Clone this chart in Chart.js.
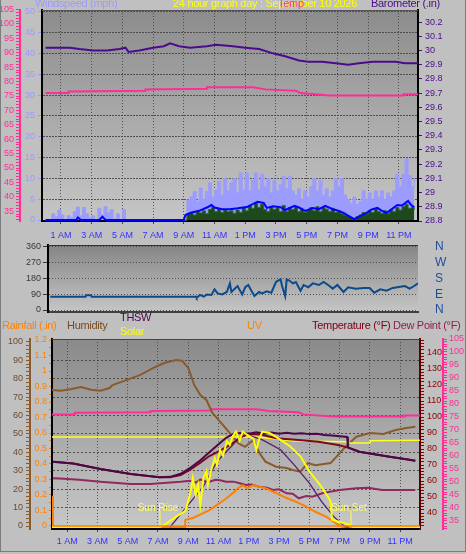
<!DOCTYPE html>
<html><head><meta charset="utf-8">
<script src="https://cdn.jsdelivr.net/npm/chart.js@4/dist/chart.umd.min.js"></script>
<style>
html,body{margin:0;padding:0;background:#c0c0c0;}
#wrap{position:relative;width:466px;height:554px;overflow:hidden;background:#c0c0c0;font-family:"Liberation Sans",Arial,sans-serif;}
canvas{position:absolute;left:0;}
.t{position:absolute;white-space:nowrap;font-size:11px;line-height:12px;letter-spacing:-0.3px;}
#frame{position:absolute;left:0;top:-2px;width:464px;height:552px;border:1px solid #7c7c7c;pointer-events:none;}
</style></head>
<body><div id="wrap">
<canvas id="c1" width="466" height="244" style="top:0"></canvas>
<canvas id="c2" width="466" height="79" style="top:239px"></canvas>
<canvas id="c3" width="466" height="236" style="top:318px"></canvas>
<div class="t" style="left:35px;top:-3px;color:#9a9aff">Windspeed (mph)</div>
<div class="t" style="left:173px;top:-3px;color:#ffff00">24 hour graph day : September 10 2026</div>
<div class="t" style="left:278px;top:-3px;color:#ff2d96">Temp</div>
<div class="t" style="left:371px;top:-3px;color:#4a0c8c">Barometer (.in)</div>
<div class="t" style="left:2px;top:319px;color:#ff8000">Rainfall (.in)</div>
<div class="t" style="left:67px;top:319px;color:#7a4a1e">Humidity</div>
<div class="t" style="left:120px;top:311px;color:#4a0848">THSW</div>
<div class="t" style="left:120px;top:325px;color:#ffff00">Solar</div>
<div class="t" style="left:247px;top:319px;color:#ff8000">UV</div>
<div class="t" style="left:312px;top:319px;color:#7a0010">Temperature (°F)</div>
<div class="t" style="left:393px;top:319px;color:#8e1e50">Dew Point (°F)</div>
<div id="frame"></div>
</div>
<script>
// ---------- tick labels ----------
const hourTicks = [1,3,5,7,9,11,13,15,17,19,21,23];
const hourLabels = ['1 AM','3 AM','5 AM','7 AM','9 AM','11 AM','1 PM','3 PM','5 PM','7 PM','9 PM','11 PM'];
const dirTicks = [0,90,180,270,360];
const compassLabels = ['N','E','S','W','N'];
const sunTimes = [7.13, 19.75];
const sunLabels = ['Sun Rise','Sun Set'];
const sunMarkTop = 90;

// ---------- top panel: wind, barometer, indoor temp ----------
const gustStart = 0, gustStep = 0.2;
const gustV = [0,0,1.5,0.8,2.4,1.2,0,1.0,0.5,2.0,3.1,1.0,3.0,1.5,0.5,1.0,0,2.8,1.2,3.2,1.8,2.5,0,1.5,0,2.5,0,
  0,0,0,0,0,0,0,0,0,0,0,0,0,0,0,0,0,0,
  0,4.8,5.6,6.8,4.5,7.7,5.0,6.8,8.9,5.5,7.2,9.3,6.0,10.1,7.0,8.9,10.0,6.5,11.3,7.2,11.3,7.0,9.5,11.3,7.2,11.0,
  8.0,10.0,6.5,9.5,7.0,8.5,10.5,7.5,10.5,7.0,6.0,7.5,5.0,7.0,5.5,8.0,10.0,7.0,9.5,6.0,7.5,5.5,7.0,10.0,8.0,
  10.0,6.0,5.0,4.0,5.5,3.7,4.5,7.0,5.0,6.5,5.0,7.0,5.5,7.0,5.0,6.5,5.5,7.0,11.0,8.0,11.0,14.7,10.7,8.0,10.0];
const lowStart = 9.0, lowStep = 0.2;
const lowV = [0,1.5,1.8,1.2,2.0,1.7,2.2,1.5,2.5,3.0,2.0,2.6,1.8,2.4,2.0,2.2,1.6,2.4,1.8,3.0,2.2,3.5,2.8,4.2,3.0,
  3.8,2.5,2.0,3.2,2.5,3.0,2.0,3.5,2.0,3.0,2.5,3.2,2.0,2.6,1.8,2.4,3.0,2.2,3.2,2.0,3.0,2.6,2.0,2.8,1.8,
  2.2,1.5,1.2,1.0,0.6,0.3,0.8,1.2,1.8,1.5,2.2,1.8,2.6,2.0,1.6,2.2,1.5,2.5,2.0,3.0,2.4,3.2,3.8,2.8,3.0,2.5];
const windT = [0,2.0,2.1,2.3,3.5,3.7,3.9,9.0,9.1,9.5,10.0,10.5,10.8,11.0,11.5,12.0,12.5,13.1,13.8,14.2,14.4,14.8,15.3,15.6,16.2,16.5,16.9,17.4,17.8,18.2,18.7,19.0,19.4,19.8,20.1,20.5,20.9,21.2,21.6,21.9,22.2,22.6,22.9,23.2,23.6,23.8,24.0];
const windV = [0,0,0.6,0,0,0.8,0,0,1.2,1.8,2.2,3.0,3.6,3.0,2.6,2.6,2.8,3.1,4.4,4.1,2.9,3.3,3.1,2.4,3.4,3.0,2.2,2.9,2.6,3.4,2.6,2.3,1.7,0.8,0.2,1.0,1.7,2.5,2.9,2.2,1.7,2.8,3.6,3.5,4.6,3.6,3.1];
const baroT = [0,1.0,1.6,2.2,3.1,4.0,4.8,5.2,5.4,6.1,7.0,7.7,8.1,8.7,9.4,10.5,11.1,12.2,13.0,13.9,14.8,15.6,16.5,17.1,18.0,18.9,19.7,20.4,21.3,21.9,22.8,23.4,24.25];
const baroV = [30.02,30.02,30.02,30.01,30.0,30.0,30.01,30.02,29.99,30.0,30.02,30.03,30.05,30.03,30.02,30.03,30.04,30.03,30.02,30.01,29.98,29.96,29.93,29.92,29.92,29.91,29.90,29.91,29.92,29.92,29.92,29.91,29.91];
const inTempT = [0,1.5,1.5,6.5,6.5,10.5,10.5,13.5,14.3,16.3,16.6,18.5,23.3,23.3,24.3];
const inTempV = [76.0,76.0,76.6,76.8,77.3,77.5,78.0,78.0,77.3,76.8,76.0,75.2,75.2,75.6,75.6];

// ---------- middle panel: wind direction ----------
const dirT = [0.3,2.6,2.65,2.95,3.0,9.8,9.84,10.05,10.3,10.5,10.8,11.0,11.2,11.5,11.8,12.0,12.1,12.3,12.5,12.8,13.0,13.2,13.4,13.6,13.9,14.1,14.4,14.7,15.0,15.3,15.4,15.6,15.7,15.9,16.1,16.3,16.6,16.8,17.1,17.4,17.8,18.1,18.4,18.7,19.0,19.4,19.7,20.2,20.7,21.1,21.4,21.8,22.2,22.6,23.1,23.4,23.7,24.0,24.25];
const dirV = [76,76,84,84,76,76,70,86,76,89,86,118,95,89,103,152,103,120,137,89,130,143,110,80,103,95,107,99,160,175,137,80,175,167,152,160,110,143,130,152,143,160,143,122,143,103,130,122,126,126,99,118,110,126,133,137,122,137,152];

// ---------- bottom panel ----------
const rainT = [0.04,0.04,0.08,0.08,24.3];
const rainV = [0,0.19,0.19,0,0];
const humT = [0,0.6,1.3,1.9,2.6,3.2,3.8,4.0,4.9,5.8,6.7,7.4,8.2,8.6,9.0,9.4,9.8,10.2,10.6,11.1,11.75,12.3,12.75,13.3,13.7,14.1,14.8,15.5,15.9,16.4,16.9,17.4,18.4,18.8,19.4,20.1,21.0,21.9,22.7,23.4,24.0];
const humV = [73.9,73.5,74.5,75.5,74.0,73.5,75.0,76.6,79.3,82.0,85.9,88.6,90.2,89.8,85.9,76.6,71.2,68.5,61.4,56.7,50.5,45.0,43.0,46.7,39.7,35.0,32.2,31.5,30.4,29.5,34.2,33.0,34.2,37.7,43.1,48.5,50.5,50.0,52.2,53.3,54.0];
const tempT = [0.07,1.4,3.2,5.2,7.1,7.8,8.5,9.1,9.8,10.4,11.2,12.0,12.5,13.0,13.8,14.8,16.3,17.6,18.9,19.5,20.3,21.2,22.3,23.4,24.0];
const tempV = [72.1,71.0,67.5,64.4,62.3,62.3,63.7,66.9,71.5,75.6,79.4,84.0,87.5,89.5,89.0,86.7,85.6,84.6,82.5,81.0,78.3,76.9,75.2,73.6,72.7];
const thswT = [0.07,1.4,3.2,5.2,7.1,7.8,8.5,9.1,9.8,10.4,11.0,11.5,12.0,12.5,13.0,13.5,14.0,14.5,15.0,15.5,16.0,16.5,17.0,17.5,18.0,18.5,19.0,19.5,19.55,20.3,21.2,22.3,23.4,24.0];
const thswV = [72.1,71.0,67.5,64.4,62.3,62.6,64.5,68.0,73.0,78.0,83.0,87.0,89.5,90.0,89.5,90.5,89.5,90.3,89.6,90.2,89.6,89.8,89.3,89.5,88.8,88.5,88.0,87.5,81.0,78.3,76.9,75.2,73.6,72.7];
const dewT = [0.07,0.5,1.8,3.2,5.2,6.5,7.6,8.5,9.1,9.5,9.8,10.1,10.4,10.8,11.1,11.5,12.0,12.4,12.8,13.2,13.7,14.2,14.6,15.0,15.5,15.9,16.3,16.8,17.2,17.9,19.0,20.1,20.9,21.8,22.9,24.0];
const dewV = [61.7,61.5,60.8,59.6,58.1,58.1,58.9,59.6,60.2,59.0,61.0,59.8,59.5,60.8,60.5,59.5,59.6,58.6,57.5,57.8,56.4,55.8,54.4,54.8,52.3,52.0,49.2,50.6,50.2,52.5,54.4,55.4,55.8,54.4,54.4,54.4];
const solarT = [0,7.13,7.6,8.25,8.8,9.0,9.2,9.3,9.5,9.65,9.8,10.0,10.2,10.3,10.55,10.75,10.9,11.1,11.3,11.55,11.75,11.95,12.15,12.4,12.6,12.9,13.3,13.5,13.7,13.9,14.4,15.1,15.7,16.4,17.0,17.7,18.2,18.4,18.5,19.0,19.55,19.9,24.3];
const solarV = [0,0,21,58,85,138,207,260,172,225,118,260,297,225,313,367,330,411,380,456,438,484,508,460,508,490,470,411,470,508,499,464,431,378,297,225,165,138,39,27,16,0,0];
const solarMaxT = [7.8,9.0,10.0,10.9,11.95,12.3,12.9,13.9,15.1,16.0,17.0,17.8,18.6,19.35,19.6];
const solarMaxV = [0,118,216,349,438,473,491,464,411,331,234,137,57,2,0];
const uvT = [0,8.8,8.8,9.3,10.0,10.4,11.1,11.55,11.95,12.3,12.6,12.9,13.3,13.7,14.1,14.8,15.5,16.1,16.8,17.4,18.1,18.6,18.8,19.2,24.3];
const uvV = [0,0,0.37,0.48,0.74,0.9,1.28,1.54,1.81,2.07,2.23,2.07,2.23,2.14,2.07,1.81,1.54,1.35,1.08,0.81,0.55,0.28,0.16,0,0];
const flatT = [0,13.5,14.5,16.0,19.5,19.55,21.0,21.02,24.3];
const flatV = [87.5,87.5,86.5,85.0,84.5,83.7,83.7,85.2,85.5];

// ---------- helpers ----------
const F = '"Liberation Sans", Arial, Helvetica, sans-serif';
Chart.defaults.font.family = F;
Chart.defaults.font.size = 9;
Chart.defaults.animation = false;
Chart.defaults.plugins.legend.display = false;
Chart.defaults.plugins.tooltip.enabled = false;
Chart.defaults.elements.point.radius = 0;
Chart.defaults.elements.line.tension = 0;

const pts = (t, v) => t.map((x, i) => ({x, y: v[i]}));
const seq = (s, st, v) => v.map((y, i) => ({x: +(s + i * st).toFixed(2), y}));
const range = (a, b, st, d) => { const o = []; for (let v = a; v <= b + 1e-9; v += st) o.push(+v.toFixed(d)); return o; };
const setTicks = vals => s => { s.ticks = vals.map(v => ({value: v})); };
const fitW = w => s => { s.width = w; s.paddingTop = 0; s.paddingBottom = 0; };
const fitH = h => s => { s.height = h; s.paddingLeft = 0; s.paddingRight = 0; };
const hourLabel = v => { const i = hourTicks.indexOf(v); return i >= 0 ? hourLabels[i] : ''; };

function panel(top, bottom, extra) {
  return {
    id: 'panel',
    beforeDraw(chart) {
      const {ctx, chartArea: a} = chart;
      const g = ctx.createLinearGradient(0, a.top, 0, a.bottom);
      g.addColorStop(0, top); g.addColorStop(1, bottom);
      ctx.save(); ctx.fillStyle = g;
      ctx.fillRect(a.left, a.top, a.right - a.left, a.bottom - a.top);
      ctx.restore();
    },
    afterDraw(chart) { if (extra) extra(chart); }
  };
}
function topLine(color) {
  return chart => {
    const {ctx, chartArea: a} = chart;
    ctx.save(); ctx.strokeStyle = color; ctx.lineWidth = 1;
    ctx.beginPath(); ctx.moveTo(a.left, a.top + 0.5); ctx.lineTo(a.right, a.top + 0.5); ctx.stroke();
    ctx.restore();
  };
}
const GRID = 'rgba(64,64,64,0.85)';
const base = {responsive: false, maintainAspectRatio: false, animation: false,
  layout: {autoPadding: false}};

// ---------- chart 1 ----------
new Chart(document.getElementById('c1'), {
  type: 'line',
  data: {datasets: [
    {data: pts(inTempT, inTempV), yAxisID: 'yP', borderColor: '#ff2d96', borderWidth: 2, order: 1},
    {data: pts(baroT, baroV), yAxisID: 'yB', borderColor: '#4a0c8c', borderWidth: 2, order: 2},
    {data: pts(windT, windV), yAxisID: 'yW', borderColor: '#0000ff', borderWidth: 2, order: 3},
    {data: seq(lowStart, lowStep, lowV), yAxisID: 'yW', borderColor: '#2f6a2f', backgroundColor: '#1d4a1d', fill: 'origin', stepped: true, borderWidth: 1, order: 4},
    {data: seq(gustStart, gustStep, gustV), yAxisID: 'yW', borderColor: '#9c9cff', backgroundColor: '#9c9cff', fill: 'origin', stepped: true, borderWidth: 1, order: 5}
  ]},
  options: Object.assign({}, base, {
    layout: {autoPadding: false, padding: {top: 10, left: 0, right: 0, bottom: 0}},
    scales: {
      x: {type: 'linear', min: -0.234, max: 24.245, afterBuildTicks: setTicks(hourTicks), afterFit: fitH(23),
        ticks: {autoSkip: false, maxRotation: 0, color: '#3030ff', padding: 6, callback: hourLabel},
        grid: {color: GRID, tickLength: 3, tickColor: '#444'}, border: {color: '#000', width: 2, dash: [1, 2]}},
      yP: {position: 'left', weight: 2, min: 31.6, max: 104.86, afterBuildTicks: setTicks(range(32, 105, 1, 0)), afterFit: fitW(20),
        ticks: {autoSkip: false, color: '#ff2d96', padding: 2, callback: v => v % 5 === 0 ? String(v) : ''},
        grid: {drawOnChartArea: false, tickColor: '#ff2d96', tickLength: 4}, border: {color: '#ff2d96', width: 2}},
      yW: {position: 'left', weight: 1, min: -0.24, max: 50.48, afterBuildTicks: setTicks(range(0, 50, 5, 0)), afterFit: fitW(22),
        ticks: {autoSkip: false, color: '#9a9aff', padding: 3},
        grid: {color: GRID, tickColor: '#9a9aff', tickLength: 4}, border: {color: '#000', width: 2, dash: [2, 1]}},
      yB: {position: 'right', min: 28.8, max: 30.285, afterBuildTicks: setTicks(range(28.8, 30.2, 0.1, 1)), afterFit: fitW(48),
        ticks: {autoSkip: false, color: '#4a0c8c', padding: 3, callback: v => String(+v.toFixed(1))},
        grid: {drawOnChartArea: false, tickColor: '#4a0c8c', tickLength: 4}, border: {color: '#000', width: 2}}
    }
  }),
  plugins: [panel('#8c8c8c', '#c6c6c6', topLine('#555'))]
});

// ---------- chart 2 ----------
new Chart(document.getElementById('c2'), {
  type: 'line',
  data: {datasets: [
    {data: pts(dirT, dirV), yAxisID: 'y', borderColor: '#0c4a8c', borderWidth: 2}
  ]},
  options: Object.assign({}, base, {
    layout: {autoPadding: false, padding: {top: 6, left: 0, right: 0, bottom: 0}},
    scales: {
      x: {type: 'linear', min: 0.156, max: 24.25, afterFit: fitH(6),
        ticks: {display: false}, grid: {display: false, drawTicks: false}, border: {color: '#404040', width: 2}},
      y: {position: 'left', min: -11.4, max: 371.4, afterBuildTicks: setTicks(dirTicks), afterFit: fitW(48),
        ticks: {autoSkip: false, color: '#383838', padding: 2},
        grid: {color: GRID, tickColor: '#383838', tickLength: 5}, border: {color: '#000', width: 2, dash: [1, 2]}},
      yC: {position: 'right', min: -11.4, max: 371.4, afterBuildTicks: setTicks(dirTicks), afterFit: fitW(48),
        ticks: {autoSkip: false, color: '#1e4c9c', padding: 17, font: {size: 12},
          callback: v => compassLabels[dirTicks.indexOf(v)]},
        grid: {display: false, drawTicks: false}, border: {display: false}}
    }
  }),
  plugins: [panel('#858585', '#c6c6c6', topLine('#333'))]
});

// ---------- chart 3 ----------
const sunDatasets = sunTimes.map(t => ({data: pts([t, t], [0, sunMarkTop]), yAxisID: 'ys', borderColor: '#ffff40', borderWidth: 1, order: 1}));
new Chart(document.getElementById('c3'), {
  type: 'line',
  data: {datasets: [
    {data: pts(rainT, rainV), yAxisID: 'yR', borderColor: '#ff8000', borderWidth: 1.5, order: 0},
    {data: pts(solarT, solarV), yAxisID: 'ys', borderColor: '#ffff00', borderWidth: 2, order: 1},
    ...sunDatasets,
    {data: pts(thswT, thswV), yAxisID: 'yT', borderColor: '#4a0848', borderWidth: 2, order: 2},
    {data: pts(tempT, tempV), yAxisID: 'yT', borderColor: '#7a0a1e', borderWidth: 2, order: 3},
    {data: pts(solarMaxT, solarMaxV), yAxisID: 'ys', borderColor: '#5a1e66', borderWidth: 1.3, order: 3},
    {data: pts(flatT, flatV), yAxisID: 'yT', borderColor: '#ffff20', borderWidth: 1.5, order: 4},
    {data: pts(uvT, uvV), yAxisID: 'yu', borderColor: '#ff8000', borderWidth: 2, order: 4},
    {data: pts(humT, humV), yAxisID: 'yH', borderColor: '#8b5a2b', borderWidth: 2, order: 5},
    {data: pts(dewT, dewV), yAxisID: 'yT', borderColor: '#8e2a5e', borderWidth: 2, order: 5},
    {data: pts(inTempT, inTempV), yAxisID: 'yD', borderColor: '#ff2d96', borderWidth: 2, order: 6}
  ]},
  options: Object.assign({}, base, {
    layout: {autoPadding: false, padding: {top: 21, left: 0, right: 0, bottom: 0}},
    scales: {
      x: {type: 'linear', min: 0, max: 24.31, afterBuildTicks: setTicks(hourTicks), afterFit: fitH(25),
        ticks: {autoSkip: false, maxRotation: 0, color: '#3030ff', padding: 4, callback: hourLabel},
        grid: {color: GRID, tickLength: 3, tickColor: '#444'}, border: {color: '#000', width: 2, dash: [1, 2]}},
      yH: {position: 'left', weight: 2, min: -1.63, max: 101.63, afterBuildTicks: setTicks(range(0, 100, 2, 0)), afterFit: fitW(30),
        ticks: {autoSkip: false, color: '#6e4a2a', padding: 3, callback: v => v % 10 === 0 ? String(v) : ''},
        grid: {color: c => (c.tick && c.tick.value % 10 === 0 && c.tick.value > 0 && c.tick.value < 100) ? GRID : 'rgba(0,0,0,0)',
          tickColor: '#8b5a2b', tickLength: 4}, border: {color: '#8b5a2b', width: 2, dash: [2, 2]}},
      yR: {position: 'left', weight: 1, min: -0.0194, max: 1.2065, afterBuildTicks: setTicks(range(0, 1.2, 0.05, 2)), afterFit: fitW(22),
        ticks: {autoSkip: false, color: '#ff8000', padding: 2,
          callback: v => { const k = Math.round(v * 100); return k % 10 === 0 ? String(k / 100) : ''; }},
        grid: {drawOnChartArea: false, tickColor: '#ff8000', tickLength: 3}, border: {color: '#000', width: 2}},
      yT: {position: 'right', weight: 1, min: 30, max: 148.75, afterBuildTicks: setTicks(range(32, 148, 2, 0)), afterFit: fitW(23),
        ticks: {autoSkip: false, color: '#8b0000', padding: 3, callback: v => (v % 10 === 0 && v >= 40 && v <= 140) ? String(v) : ''},
        grid: {drawOnChartArea: false, tickColor: '#8b0000', tickLength: 4}, border: {color: '#5a0000', width: 2}},
      yD: {position: 'right', weight: 2, min: 31.9, max: 105, afterBuildTicks: setTicks(range(32, 105, 1, 0)), afterFit: fitW(23),
        ticks: {autoSkip: false, color: '#ff2d96', padding: 2, callback: v => (v % 5 === 0 && v >= 35) ? String(v) : ''},
        grid: {drawOnChartArea: false, tickColor: '#ff2d96', tickLength: 4}, border: {color: '#ff2d96', width: 2}},
      ys: {display: false, min: -10, max: 1000},
      yu: {display: false, min: -0.106, max: 10}
    }
  }),
  plugins: [panel('#8a8a8a', '#c8c8c8', chart => {
    const {ctx} = chart; const sx = chart.scales.x, sy = chart.scales.ys;
    ctx.save();
    topLine('#444')(chart);
    ctx.fillStyle = '#ffff60'; ctx.font = '10px ' + F; ctx.textAlign = 'center'; ctx.textBaseline = 'bottom';
    sunTimes.forEach((t, i) => ctx.fillText(sunLabels[i], sx.getPixelForValue(t) - 2, sy.getPixelForValue(sunMarkTop) + 3));
    ctx.restore();
  })]
});
</script>
</body></html>
